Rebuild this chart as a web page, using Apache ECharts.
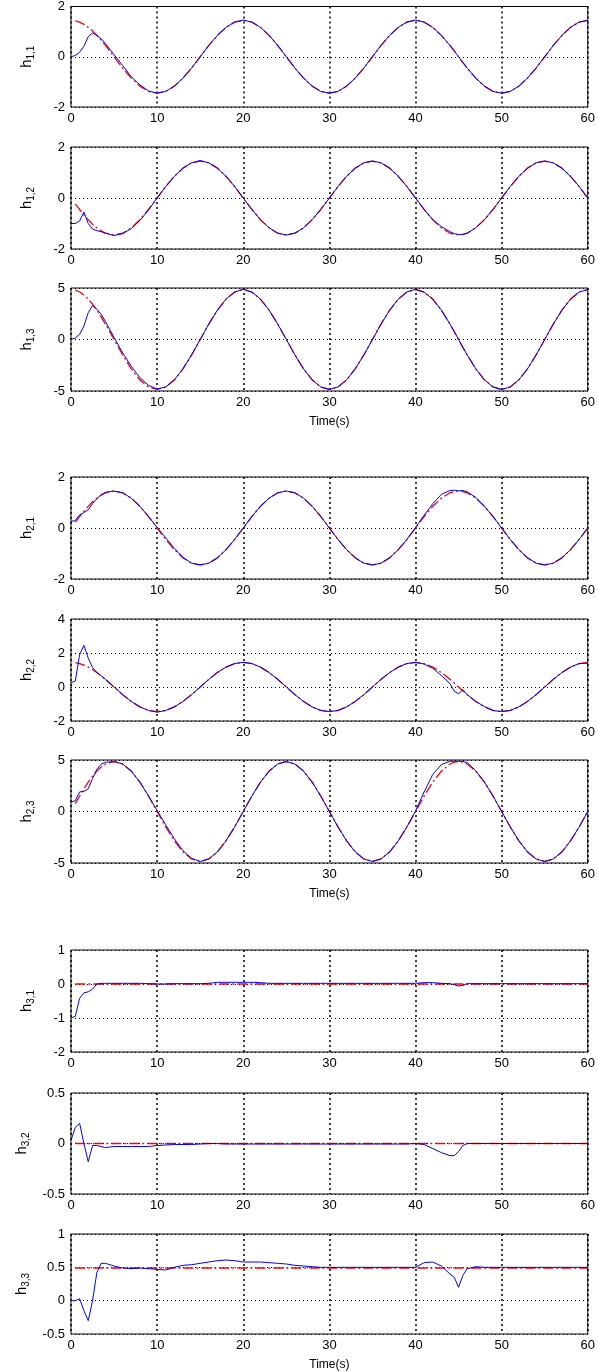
<!DOCTYPE html>
<html>
<head>
<meta charset="utf-8">
<script src="https://cdn.jsdelivr.net/npm/echarts@6/dist/echarts.min.js"></script>
<style>
html,body{margin:0;padding:0;background:#fff;}
#c{width:598px;height:1372px;}
</style>
</head>
<body>
<div id="c"></div>
<script>
// time samples (s)
const T = [0,0.5,1,1.5,2,2.5,3,3.5,4,
  5,6,7,8,9,10,11,12,13,14,15,16,17,18,19,20,21,22,23,24,25,26,27,28,29,30,31,32,33,34,35,36,37,38,39,40,41,42,43,44,
  44.5,45,45.5,
  46,47,48,49,50,51,52,53,54,55,56,57,58,59,60];

const xTicks = [0,10,20,30,40,50,60];

// h1,1
const R11 = [null,1.43,1.38,1.29,1.17,1.03,0.85,0.66,0.45,
  0,-0.45,-0.85,-1.17,-1.38,-1.45,-1.38,-1.17,-0.85,-0.45,
  0,0.45,0.85,1.17,1.38,1.45,1.38,1.17,0.85,0.45,
  0,-0.45,-0.85,-1.17,-1.38,-1.45,-1.38,-1.17,-0.85,-0.45,
  0,0.45,0.85,1.17,1.38,1.45,1.38,1.17,0.85,0.45,
  0.23,0,-0.23,
  -0.45,-0.85,-1.17,-1.38,-1.45,-1.38,-1.17,-0.85,-0.45,0,0.45,0.85,1.17,1.38,1.45];
const B11 = [0,0.05,0.18,0.42,0.8,0.95,0.85,0.72,0.52,
  0.08,-0.35,-0.8,-1.12,-1.36,-1.45,-1.38,-1.17,-0.85,-0.45,
  0,0.45,0.85,1.17,1.38,1.46,1.38,1.17,0.85,0.45,
  0,-0.45,-0.85,-1.17,-1.38,-1.45,-1.38,-1.17,-0.85,-0.45,
  0,0.45,0.85,1.17,1.38,1.46,1.38,1.17,0.85,0.45,
  0.23,0,-0.23,
  -0.45,-0.85,-1.17,-1.38,-1.45,-1.38,-1.17,-0.85,-0.45,0,0.45,0.85,1.17,1.38,1.45];

// h1,2
const R12 = [null,-0.23,-0.45,-0.66,-0.85,-1.03,-1.17,-1.29,-1.38,
  -1.45,-1.38,-1.17,-0.85,-0.45,0,0.45,0.85,1.17,1.38,
  1.45,1.38,1.17,0.85,0.45,0,-0.45,-0.85,-1.17,-1.38,
  -1.45,-1.38,-1.17,-0.85,-0.45,0,0.45,0.85,1.17,1.38,
  1.45,1.38,1.17,0.85,0.45,0,-0.45,-0.85,-1.17,-1.38,
  -1.43,-1.45,-1.43,
  -1.38,-1.17,-0.85,-0.45,0,0.45,0.85,1.17,1.38,1.45,1.38,1.17,0.85,0.45,0];
const B12 = [-1.0,-1.0,-0.9,-0.55,-1.0,-1.22,-1.28,-1.32,-1.38,
  -1.47,-1.4,-1.2,-0.88,-0.47,0,0.45,0.85,1.17,1.38,
  1.47,1.38,1.17,0.85,0.45,0,-0.45,-0.85,-1.17,-1.38,
  -1.45,-1.38,-1.17,-0.85,-0.45,0,0.45,0.85,1.17,1.38,
  1.45,1.38,1.17,0.85,0.45,0,-0.45,-0.85,-1.12,-1.32,
  -1.4,-1.43,-1.43,
  -1.38,-1.17,-0.85,-0.45,0,0.45,0.85,1.17,1.38,1.45,1.38,1.17,0.85,0.45,0];

// h1,3
const R13 = [null,4.79,4.61,4.32,3.92,3.43,2.85,2.2,1.5,
  0,-1.5,-2.85,-3.92,-4.61,-4.85,-4.61,-3.92,-2.85,-1.5,
  0,1.5,2.85,3.92,4.61,4.85,4.61,3.92,2.85,1.5,
  0,-1.5,-2.85,-3.92,-4.61,-4.85,-4.61,-3.92,-2.85,-1.5,
  0,1.5,2.85,3.92,4.61,4.85,4.61,3.92,2.85,1.5,
  0.76,0,-0.76,
  -1.5,-2.85,-3.92,-4.61,-4.85,-4.61,-3.92,-2.85,-1.5,0,1.5,2.85,3.92,4.61,4.85];
const B13 = [0,0.15,0.5,1.3,2.6,3.3,2.95,2.45,1.75,
  0.2,-1.3,-2.6,-3.7,-4.45,-4.8,-4.61,-3.92,-2.85,-1.5,
  0,1.5,2.85,3.92,4.61,4.88,4.61,3.92,2.85,1.5,
  0,-1.5,-2.85,-3.92,-4.61,-4.85,-4.61,-3.92,-2.85,-1.5,
  0,1.5,2.85,3.92,4.61,4.88,4.61,3.92,2.85,1.5,
  0.76,0,-0.76,
  -1.5,-2.85,-3.92,-4.61,-4.85,-4.61,-3.92,-2.85,-1.5,0,1.5,2.85,3.92,4.61,4.85];

// h2,1
const R21 = [null,0.23,0.45,0.66,0.85,1.03,1.17,1.29,1.38,
  1.45,1.38,1.17,0.85,0.45,0,-0.45,-0.85,-1.17,-1.38,
  -1.45,-1.38,-1.17,-0.85,-0.45,0,0.45,0.85,1.17,1.38,
  1.45,1.38,1.17,0.85,0.45,0,-0.45,-0.85,-1.17,-1.38,
  -1.45,-1.38,-1.17,-0.85,-0.45,0,0.45,0.85,1.17,1.38,
  1.43,1.45,1.43,
  1.38,1.17,0.85,0.45,0,-0.45,-0.85,-1.17,-1.38,-1.45,-1.38,-1.17,-0.85,-0.45,0];
const B21 = [0.25,0.3,0.52,0.6,0.72,0.95,1.15,1.3,1.4,
  1.45,1.38,1.17,0.85,0.45,0.02,-0.38,-0.8,-1.15,-1.38,
  -1.45,-1.38,-1.17,-0.85,-0.45,0,0.45,0.85,1.17,1.38,
  1.45,1.38,1.17,0.85,0.45,0,-0.45,-0.85,-1.17,-1.38,
  -1.45,-1.38,-1.17,-0.85,-0.45,0.02,0.5,0.95,1.32,1.47,
  1.48,1.46,1.47,
  1.42,1.2,0.85,0.45,0,-0.45,-0.85,-1.17,-1.38,-1.45,-1.38,-1.17,-0.85,-0.45,0];

// h2,2
const R22 = [null,1.43,1.38,1.29,1.17,1.03,0.85,0.66,0.45,
  0,-0.45,-0.85,-1.17,-1.38,-1.45,-1.38,-1.17,-0.85,-0.45,
  0,0.45,0.85,1.17,1.38,1.45,1.38,1.17,0.85,0.45,
  0,-0.45,-0.85,-1.17,-1.38,-1.45,-1.38,-1.17,-0.85,-0.45,
  0,0.45,0.85,1.17,1.38,1.45,1.38,1.17,0.85,0.45,
  0.23,0,-0.23,
  -0.45,-0.85,-1.17,-1.38,-1.45,-1.38,-1.17,-0.85,-0.45,0,0.45,0.85,1.17,1.38,1.45];
const B22 = [0.25,0.35,1.9,2.45,1.7,1.15,0.85,0.66,0.45,
  0,-0.45,-0.85,-1.17,-1.38,-1.48,-1.38,-1.17,-0.85,-0.45,
  0,0.45,0.85,1.17,1.38,1.45,1.38,1.17,0.85,0.45,
  0,-0.45,-0.85,-1.17,-1.38,-1.45,-1.38,-1.17,-0.85,-0.45,
  0,0.45,0.85,1.17,1.38,1.45,1.35,1.1,0.68,0.2,
  -0.25,-0.4,-0.15,
  -0.45,-0.85,-1.15,-1.38,-1.45,-1.38,-1.17,-0.85,-0.45,0,0.45,0.85,1.17,1.38,1.4];

// h2,3
const R23 = [null,0.76,1.5,2.2,2.85,3.43,3.92,4.32,4.61,
  4.85,4.61,3.92,2.85,1.5,0,-1.5,-2.85,-3.92,-4.61,
  -4.85,-4.61,-3.92,-2.85,-1.5,0,1.5,2.85,3.92,4.61,
  4.85,4.61,3.92,2.85,1.5,0,-1.5,-2.85,-3.92,-4.61,
  -4.85,-4.61,-3.92,-2.85,-1.5,0,1.5,2.85,3.92,4.61,
  4.79,4.85,4.79,
  4.61,3.92,2.85,1.5,0,-1.5,-2.85,-3.92,-4.61,-4.85,-4.61,-3.92,-2.85,-1.5,0];
const B23 = [0.9,1.05,1.9,1.95,2.2,3.2,4.1,4.6,4.78,
  4.85,4.61,3.92,2.85,1.5,0.1,-1.3,-2.65,-3.8,-4.55,
  -4.85,-4.61,-3.92,-2.85,-1.5,0,1.5,2.85,3.92,4.61,
  4.85,4.61,3.92,2.85,1.5,0,-1.5,-2.85,-3.92,-4.61,
  -4.85,-4.61,-3.92,-2.85,-1.5,0.05,1.9,3.6,4.55,4.88,
  4.88,4.88,4.86,
  4.75,3.95,2.85,1.5,0,-1.5,-2.85,-3.92,-4.61,-4.85,-4.61,-3.92,-2.85,-1.5,0];

// h3,1
const R31 = [null,0,0,0,0,0,0,0,0,
  0,0,0,0,0,0,0,0,0,0, 0,0,0,0,0,0,0,0,0,0, 0,0,0,0,0,0,0,0,0,0, 0,0,0,0,0,0,0,0,0,0,
  0,0,0,
  0,0,0,0,0,0,0,0,0,0,0,0,0,0,0];
const B31 = [-1.0,-0.95,-0.42,-0.26,-0.23,-0.15,0.0,0.02,0.02,
  0.02,0.02,0.02,0.02,0.01,0,0,0.01,0.01,0.01,
  0.01,0.02,0.05,0.05,0.05,0.05,0.05,0.04,0.02,0.02,
  0.02,0.02,0.02,0.02,0.02,0.02,0.02,0.02,0.02,0.02,
  0.02,0.02,0.02,0.02,0.02,0.02,0.04,0.04,0.02,0.01,
  -0.02,-0.06,-0.04,
  0.01,0.01,0.01,0.01,0.01,0.01,0.01,0.01,0.01,0.01,0.01,0.01,0.01,0.01,0.01];

// h3,2
const R32 = [null,0,0,0,0,0,0,0,0,
  0,0,0,0,0,0,0,0,0,0, 0,0,0,0,0,0,0,0,0,0, 0,0,0,0,0,0,0,0,0,0, 0,0,0,0,0,0,0,0,0,0,
  0,0,0,
  0,0,0,0,0,0,0,0,0,0,0,0,0,0,0];
const B32 = [0.03,0.16,0.2,0.0,-0.18,-0.02,-0.02,-0.03,-0.04,
  -0.03,-0.03,-0.03,-0.03,-0.03,-0.02,-0.015,-0.01,-0.01,-0.01,
  -0.005,0,0,-0.005,-0.005,-0.005,-0.005,-0.005,-0.005,-0.005,
  -0.005,-0.005,-0.005,-0.005,-0.005,-0.005,-0.005,-0.005,-0.005,-0.005,
  -0.005,-0.005,-0.005,-0.005,-0.005,0,-0.01,-0.05,-0.09,-0.12,
  -0.12,-0.08,-0.02,
  0,0,0,0,0,0,0,0,0,0,0,0,0,0,0];

// h3,3
const R33 = [null,0.49,0.49,0.49,0.49,0.49,0.49,0.49,0.49,
  0.49,0.49,0.49,0.49,0.49,0.49,0.49,0.49,0.49,0.49,
  0.49,0.49,0.49,0.49,0.49,0.49,0.49,0.49,0.49,0.49,
  0.49,0.49,0.49,0.49,0.49,0.49,0.49,0.49,0.49,0.49,
  0.49,0.49,0.49,0.49,0.49,0.49,0.49,0.49,0.49,0.49,
  0.49,0.49,0.49,
  0.49,0.49,0.49,0.49,0.49,0.49,0.49,0.49,0.49,0.49,0.49,0.49,0.49,0.49,0.49];
const B33 = [0,0,0.03,-0.15,-0.3,0.0,0.42,0.56,0.56,
  0.52,0.49,0.48,0.49,0.48,0.47,0.46,0.5,0.53,0.54,
  0.56,0.58,0.6,0.61,0.6,0.58,0.58,0.58,0.57,0.56,
  0.55,0.53,0.52,0.51,0.5,0.5,0.5,0.5,0.5,0.5,
  0.5,0.5,0.5,0.5,0.5,0.5,0.57,0.58,0.52,0.4,
  0.35,0.2,0.38,
  0.48,0.51,0.5,0.5,0.5,0.5,0.5,0.5,0.5,0.5,0.5,0.5,0.5,0.5,0.5];

const panels = [
  {sub:'1,1', min:-2, max:2, step:2, red:R11, blue:B11},
  {sub:'1,2', min:-2, max:2, step:2, red:R12, blue:B12},
  {sub:'1,3', min:-5, max:5, step:5, red:R13, blue:B13, time:true},
  {sub:'2,1', min:-2, max:2, step:2, red:R21, blue:B21},
  {sub:'2,2', min:-2, max:4, step:2, red:R22, blue:B22},
  {sub:'2,3', min:-5, max:5, step:5, red:R23, blue:B23, time:true},
  {sub:'3,1', min:-2, max:1, step:1, red:R31, blue:B31},
  {sub:'3,2', min:-0.5, max:0.5, step:0.5, red:R32, blue:B32},
  {sub:'3,3', min:-0.5, max:1, step:0.5, red:R33, blue:B33, time:true}
];

const tops = [5,147,288,477,619,760,950,1093,1234];
const heights = [102,102,103,102,102,103,102,101,103];
const FONT = 'Liberation Sans, Arial, sans-serif';

const grid = [], xAxis = [], yAxis = [], series = [];
panels.forEach((p, i) => {
  grid.push({left:71, right:10, top:tops[i], height:heights[i], show:true,
    borderColor:'#000', borderWidth:1, backgroundColor:'#fff'});
  xAxis.push({type:'value', gridIndex:i, min:xTicks[0], max:xTicks[xTicks.length-1], interval:10,
    axisLine:{show:false}, axisTick:{show:false},
    axisLabel:{fontSize:13, color:'#000', margin:5, fontFamily:FONT},
    splitLine:{show:true, lineStyle:{color:'#000', type:[2,3], width:1.5}},
    name: p.time ? 'Time(s)' : '', nameLocation:'middle', nameGap:25,
    nameTextStyle:{fontSize:12, color:'#000', fontFamily:FONT}});
  yAxis.push({type:'value', gridIndex:i, min:p.min, max:p.max, interval:p.step,
    axisLine:{show:false}, axisTick:{show:false},
    axisLabel:{fontSize:13, color:'#000', margin:6, fontFamily:FONT},
    splitLine:{show:true, lineStyle:{color:'#000', type:[1,3], width:1}},
    name:'{h|h}{s|' + p.sub + '}', nameLocation:'middle', nameRotate:90, nameGap:32,
    nameTextStyle:{color:'#000', fontFamily:FONT, rich:{
      h:{fontSize:15, color:'#000', fontFamily:FONT, padding:[0,0,5,0]},
      s:{fontSize:10, color:'#000', fontFamily:FONT, padding:[5,0,0,0]}
    }}});
  series.push({type:'line', xAxisIndex:i, yAxisIndex:i, showSymbol:false, animation:false,
    data:T.map((t,k)=>[t,p.red[k]]), connectNulls:false,
    lineStyle:{color:'#ff0000', width:1.3, type:[10,3,2,3]}, z:2});
  series.push({type:'line', xAxisIndex:i, yAxisIndex:i, showSymbol:false, animation:false,
    data:T.map((t,k)=>[t,p.blue[k]]),
    lineStyle:{color:'#0000ff', width:1}, z:3});
});

const chart = echarts.init(document.getElementById('c'), null, {renderer:'canvas'});
chart.setOption({animation:false, backgroundColor:'#fff', grid, xAxis, yAxis, series});
</script>
</body>
</html>
